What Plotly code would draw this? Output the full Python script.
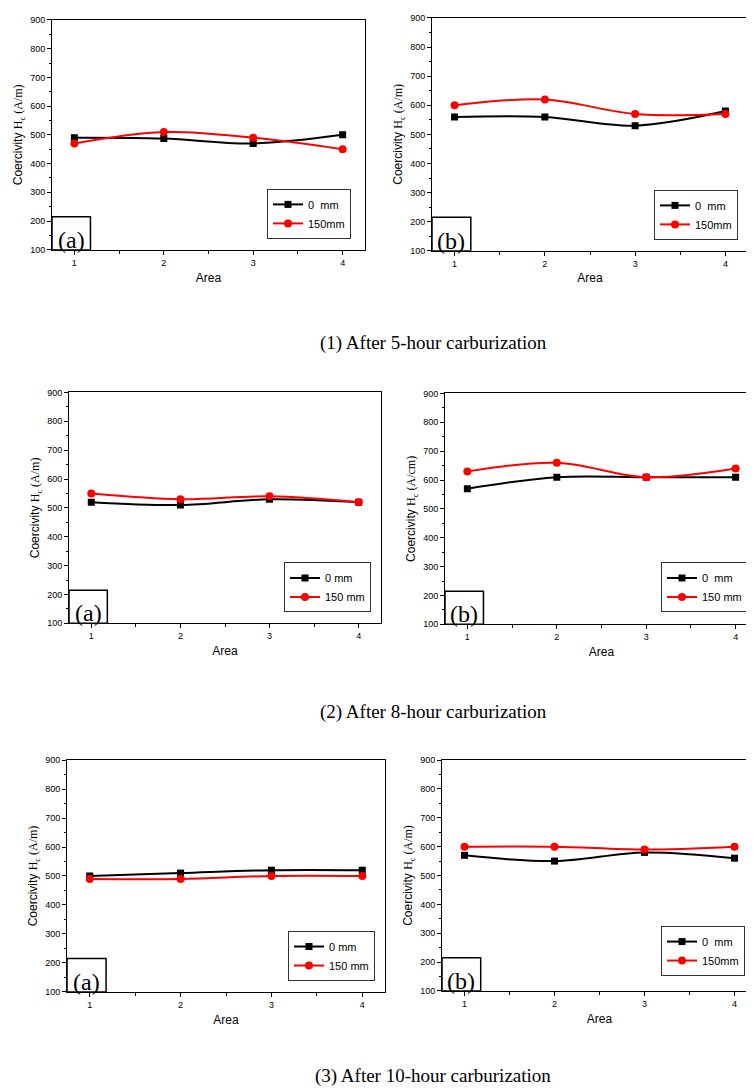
import plotly.graph_objects as go

# area index on the x axis
area = [1, 2, 3, 4]

# coercivity values (A/m), 0 mm and 150 mm depth
h5_a_0 = [490, 487, 470, 500]
h5_a_150 = [470, 510, 490, 450]
h5_b_0 = [560, 560, 530, 580]
h5_b_150 = [600, 620, 570, 570]

h8_a_0 = [520, 510, 530, 520]
h8_a_150 = [550, 530, 540, 520]
h8_b_0 = [570, 610, 610, 610]
h8_b_150 = [630, 660, 610, 640]

h10_a_0 = [500, 510, 520, 520]
h10_a_150 = [490, 490, 500, 500]
h10_b_0 = [570, 550, 580, 560]
h10_b_150 = [600, 600, 590, 600]

panel_tags = ["(a)", "(b)", "(a)", "(b)", "(a)", "(b)"]
names_0 = ["0  mm", "0  mm", "0 mm", "0  mm", "0 mm", "0  mm"]
names_150 = ["150mm", "150mm", "150 mm", "150 mm", "150 mm", "150mm"]
units = ["A/m", "A/m", "A/m", "A/cm", "A/m", "A/m"]
captions = ["(1) After 5-hour carburization",
            "(2) After 8-hour carburization",
            "(3) After 10-hour carburization"]

series_0 = [h5_a_0, h5_b_0, h8_a_0, h8_b_0, h10_a_0, h10_b_0]
series_150 = [h5_a_150, h5_b_150, h8_a_150, h8_b_150, h10_a_150, h10_b_150]

W, H = 754, 1088

# plot frames in pixels: left, right, top, bottom
frames = [
    (44, 357, 7, 239),
    (424, 740, 5, 240),
    (61, 373, 383, 616),
    (437, 750, 384, 617),
    (59, 377, 754, 988),
    (434, 749, 754, 987),
]
# legend box right/bottom in pixels
legend_pos = [(343, 228), (730, 229), (363, 605), (740, 605), (367, 977), (737, 972)]
caption_y = [333, 705, 1073]

fig = go.Figure()

for i in range(6):
    n = "" if i == 0 else str(i + 1)
    leg = "legend" if i == 0 else "legend" + str(i + 1)
    fig.add_trace(go.Scatter(
        x=area, y=series_0[i], name=names_0[i],
        mode="lines+markers", line=dict(color="black", width=2, shape="spline", smoothing=1),
        marker=dict(symbol="square", size=7, color="black"),
        xaxis="x" + n, yaxis="y" + n, legend=leg,
    ))
    fig.add_trace(go.Scatter(
        x=area, y=series_150[i], name=names_150[i],
        mode="lines+markers", line=dict(color="red", width=2, shape="spline", smoothing=1),
        marker=dict(symbol="circle", size=8, color="red"),
        xaxis="x" + n, yaxis="y" + n, legend=leg,
    ))

    l, r, t, b = frames[i]
    axis_common = dict(
        showline=True, mirror=True, linecolor="black", linewidth=1,
        ticks="outside", ticklen=4, tickwidth=1, tickcolor="black",
        showgrid=False, zeroline=False,
        tickfont=dict(family="Liberation Sans", size=9, color="black"),
    )
    fig.layout["xaxis" + n] = dict(
        axis_common, domain=[l / W, r / W], anchor="y" + n,
        range=[0.75, 4.25], tickvals=area,
        minor=dict(ticks="outside", ticklen=3, dtick=0.5, tick0=0.5, tickcolor="black"),
        title=dict(text="Area", font=dict(family="Liberation Sans", size=12, color="black"), standoff=6),
    )
    fig.layout["yaxis" + n] = dict(
        axis_common, domain=[1 - b / H, 1 - t / H], anchor="x" + n,
        range=[100, 900], dtick=100,
        minor=dict(ticks="outside", ticklen=2, dtick=50, tickcolor="black"),
        title=dict(
            text='Coercivity <span style="font-family:Liberation Serif">H<sub>c</sub> (' + units[i] + ')</span>',
            font=dict(family="Liberation Sans", size=12, color="black"), standoff=4),
    )

    lx, ly = legend_pos[i]
    fig.layout[leg] = dict(
        x=lx / W, y=1 - ly / H, xanchor="right", yanchor="bottom",
        xref="paper", yref="paper",
        bgcolor="white", bordercolor="#333333", borderwidth=1,
        font=dict(family="Liberation Sans", size=11, color="black"),
        itemwidth=30, tracegroupgap=0,
    )

    # (a)/(b) tag box at the lower left corner
    fig.add_shape(type="rect", xref="x" + n, yref="y" + n,
                  x0=0.75, x1=1.18, y0=100, y1=215,
                  line=dict(color="black", width=1.5), fillcolor="white", layer="above")
    fig.add_annotation(x=0.965, y=100, xref="x" + n, yref="y" + n,
                       text=panel_tags[i], showarrow=False,
                       xanchor="center", yanchor="bottom", yshift=-5,
                       font=dict(family="Liberation Serif", size=24, color="black"))

for k in range(3):
    fig.add_annotation(x=425 / W, y=1 - caption_y[k] / H, xref="paper", yref="paper",
                       text=captions[k], showarrow=False,
                       xanchor="center", yanchor="middle",
                       font=dict(family="Liberation Serif", size=19, color="black"))

fig.update_layout(
    width=W, height=H,
    margin=dict(l=0, r=0, t=0, b=0),
    paper_bgcolor="white", plot_bgcolor="white",
    showlegend=True,
)

fig.write_html("out.html")
